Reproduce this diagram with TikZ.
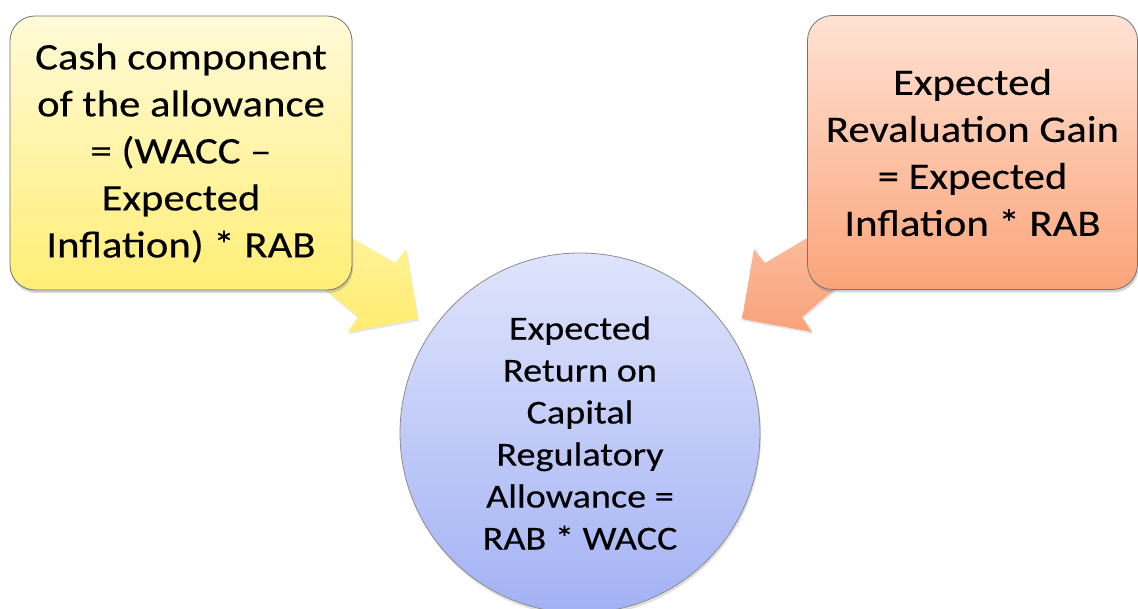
\documentclass[tikz,border=0pt]{standalone}
\usepackage{fontspec}
\setmainfont{Carlito}[FakeStretch=1.14,FakeBold=0.3]
\usetikzlibrary{shadows,backgrounds}

\definecolor{cashtop}{RGB}{255,250,216}
\definecolor{cashbot}{RGB}{255,238,118}
\definecolor{revtop}{RGB}{255,226,212}
\definecolor{revbot}{RGB}{251,164,122}
\definecolor{rettop}{RGB}{223,228,251}
\definecolor{retbot}{RGB}{163,178,245}
\definecolor{cashpointtop}{RGB}{255,244,160}
\definecolor{cashpointbot}{RGB}{255,236,112}
\definecolor{revpointtop}{RGB}{251,192,162}
\definecolor{revpointbot}{RGB}{250,162,122}

\begin{document}
\begin{tikzpicture}[x=1pt,y=1pt,
    tile/.style={rectangle,rounded corners=25,minimum width=342,minimum height=274,
      draw=black!55,line width=0.8pt,align=center,
      font=\fontsize{37.5}{47}\selectfont,
      drop shadow={opacity=0.35,shadow xshift=1pt,shadow yshift=-3pt}},
    hub/.style={circle,minimum size=360,inner sep=0pt,draw=black!45,line width=0.8pt,align=center,
      font=\fontsize{33.5}{42}\selectfont,
      drop shadow={opacity=0.25,shadow xshift=1pt,shadow yshift=-3pt}},
    blockarrow/.style={drop shadow={opacity=0.2,shadow xshift=1pt,shadow yshift=-2pt}}]
    \useasboundingbox (0,0) rectangle (1138,608);

    \node at (181,455) [tile,top color=cashtop,bottom color=cashbot]
      (cash) {Cash component\\of the allowance\\= (WACC --\\Expected\\Inflation) * RAB};
    \node at (972.5,455.5) [tile,minimum width=330,top color=revtop,bottom color=revbot]
      (reval) {Expected\\Revaluation Gain\\= Expected\\Inflation * RAB};
    \node at (580,175) [hub,top color=rettop,bottom color=retbot]
      (ret) {Expected\\Return on\\Capital\\Regulatory\\Allowance =\\RAB * WACC};

    \begin{scope}[on background layer]
      \path[blockarrow,top color=cashpointtop,bottom color=cashpointbot]
        ([xshift=-33,yshift=72] cash.south east) -- ([xshift=-185,yshift=170] ret.center)
        -- ([xshift=-174,yshift=184] ret.center) -- ([xshift=-162,yshift=114] ret.center)
        -- ([xshift=-232,yshift=101] ret.center) -- ([xshift=-222,yshift=116] ret.center)
        -- ([xshift=-52,yshift=22] cash.south east) -- cycle;
      \path[blockarrow,top color=revpointtop,bottom color=revpointbot]
        ([xshift=34,yshift=72] reval.south west) -- ([xshift=185,yshift=170] ret.center)
        -- ([xshift=174,yshift=184] ret.center) -- ([xshift=162,yshift=114] ret.center)
        -- ([xshift=232,yshift=101] ret.center) -- ([xshift=222,yshift=116] ret.center)
        -- ([xshift=53,yshift=22] reval.south west) -- cycle;
    \end{scope}
\end{tikzpicture}
\end{document}
